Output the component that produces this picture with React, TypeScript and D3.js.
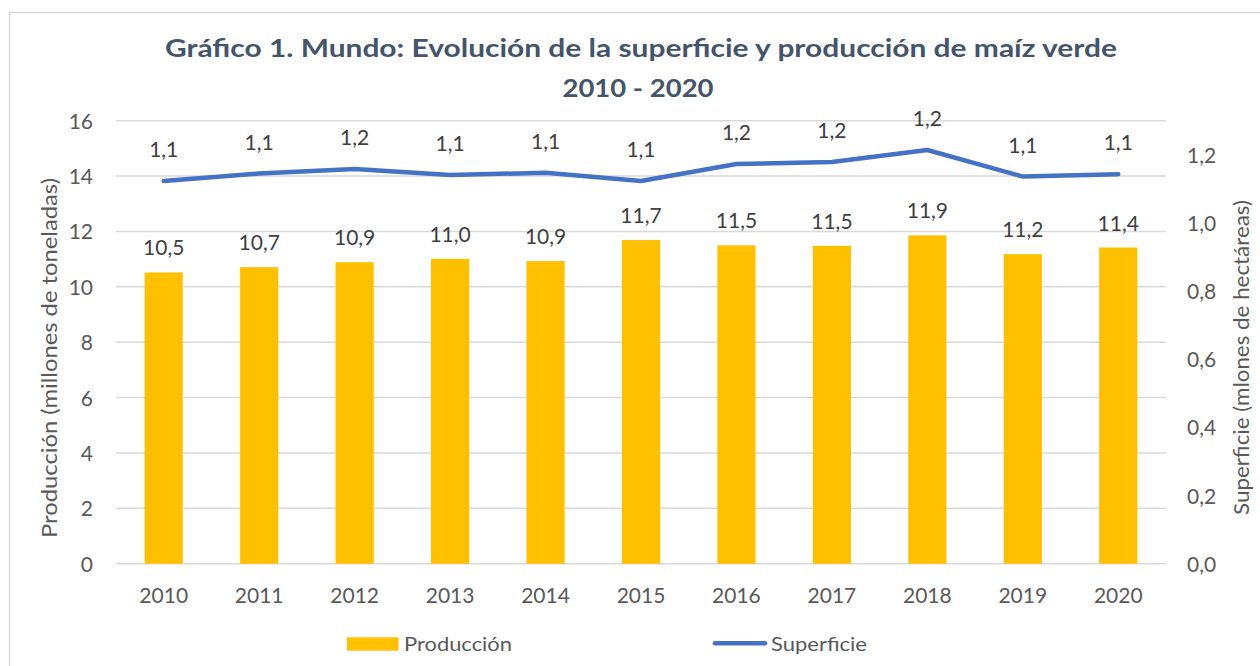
import React from "react";
import * as d3 from "d3";

// chart data
const years = ["2010", "2011", "2012", "2013", "2014", "2015", "2016", "2017", "2018", "2019", "2020"];
const produccion = [10.52, 10.71, 10.89, 11.01, 10.93, 11.69, 11.5, 11.48, 11.86, 11.18, 11.42];
const superficie = [1.123, 1.145, 1.158, 1.141, 1.147, 1.123, 1.173, 1.179, 1.214, 1.136, 1.143];
const leftTicks = [0, 2, 4, 6, 8, 10, 12, 14, 16];
const rightTicks = [0, 0.2, 0.4, 0.6, 0.8, 1.0, 1.2];

const W = 1260;
const H = 666;
const margin = { top: 120.7, right: 94, bottom: 102.3, left: 116 };
const FONT = "Lato, 'Noto Sans', sans-serif";

const fmt = (v: number) => d3.format(".1f")(v).replace(".", ",");

export default function App() {
  const x = d3
    .scaleBand<string>()
    .domain(years)
    .range([margin.left, W - margin.right])
    .padding(0);
  const yLeft = d3.scaleLinear().domain([0, 16]).range([H - margin.bottom, margin.top]);
  const yRight = d3.scaleLinear().domain([0, 1.3]).range([H - margin.bottom, margin.top]);

  const bw = x.bandwidth() * 0.4;
  const cx = (y: string) => (x(y) as number) + x.bandwidth() / 2;

  const line = d3
    .line<number>()
    .x((_, i) => cx(years[i]))
    .y((d) => yRight(d));

  return (
    <svg
      width={W}
      height={H}
      style={{ position: "absolute", left: 0, top: 0, background: "#fff" }}
      fontFamily={FONT}
    >
      {/* chart frame */}
      <rect x={9.5} y={12.5} width={1300} height={700} fill="#fff" stroke="#D9D9D9" strokeWidth={1.5} />

      {/* title */}
      <text x={641} y={56.5} textAnchor="middle" fontSize={24} fontWeight={700} fill="#44546A"
        textLength={952} lengthAdjust="spacingAndGlyphs">
        Gráfico 1. Mundo: Evolución de la superficie y producción de maíz verde
      </text>
      <text x={638} y={96.5} textAnchor="middle" fontSize={24} fontWeight={700} fill="#44546A"
        textLength={151} lengthAdjust="spacingAndGlyphs">
        2010 - 2020
      </text>

      {/* gridlines */}
      {leftTicks.map((t) => (
        <line key={t} x1={margin.left} x2={W - margin.right} y1={yLeft(t)} y2={yLeft(t)}
          stroke="#D9D9D9" strokeWidth={1.5} />
      ))}

      {/* left ticks */}
      {leftTicks.map((t) => (
        <text key={"l" + t} x={93} y={yLeft(t) + 8} textAnchor="end" fontSize={21} fill="#595959">
          {t}
        </text>
      ))}
      {/* right ticks */}
      {rightTicks.map((t) => (
        <text key={"r" + t} x={1187} y={yRight(t) + 8} textAnchor="start" fontSize={21} fill="#595959">
          {fmt(t)}
        </text>
      ))}

      {/* bars */}
      {produccion.map((v, i) => (
        <rect key={years[i]} x={cx(years[i]) - bw / 2} y={yLeft(v)} width={bw}
          height={yLeft(0) - yLeft(v)} fill="#FFC000" />
      ))}
      {produccion.map((v, i) => (
        <text key={"bl" + i} x={cx(years[i])} y={yLeft(v) - 17} textAnchor="middle" fontSize={21} fill="#404040">
          {fmt(v)}
        </text>
      ))}

      {/* line */}
      <path d={line(superficie) || ""} fill="none" stroke="#4472C4" strokeWidth={4.5}
        strokeLinejoin="round" strokeLinecap="round" />
      {superficie.map((v, i) => (
        <text key={"ll" + i} x={cx(years[i])} y={yRight(v) - 24} textAnchor="middle" fontSize={21} fill="#404040">
          {fmt(v)}
        </text>
      ))}

      {/* x axis labels */}
      {years.map((y) => (
        <text key={"x" + y} x={cx(y)} y={602.5} textAnchor="middle" fontSize={21} fill="#595959">
          {y}
        </text>
      ))}

      {/* axis titles */}
      <text transform="translate(57,358) rotate(-90)" textAnchor="middle" fontSize={21} fill="#595959"
        textLength={360} lengthAdjust="spacingAndGlyphs">
        Producción (millones de toneladas)
      </text>
      <text transform="translate(1249,357.5) rotate(-90)" textAnchor="middle" fontSize={21} fill="#595959"
        textLength={315} lengthAdjust="spacingAndGlyphs">
        Superficie (mlones de hectáreas)
      </text>

      {/* legend */}
      <rect x={347} y={637.3} width={51.5} height={13.4} fill="#FFC000" />
      <text x={404} y={650.5} fontSize={20} fill="#595959" textLength={108} lengthAdjust="spacingAndGlyphs">
        Producción
      </text>
      <line x1={715} x2={765} y1={643.3} y2={643.3} stroke="#4472C4" strokeWidth={4.5} strokeLinecap="round" />
      <text x={771} y={650.5} fontSize={20} fill="#595959" textLength={96} lengthAdjust="spacingAndGlyphs">
        Superficie
      </text>
    </svg>
  );
}
